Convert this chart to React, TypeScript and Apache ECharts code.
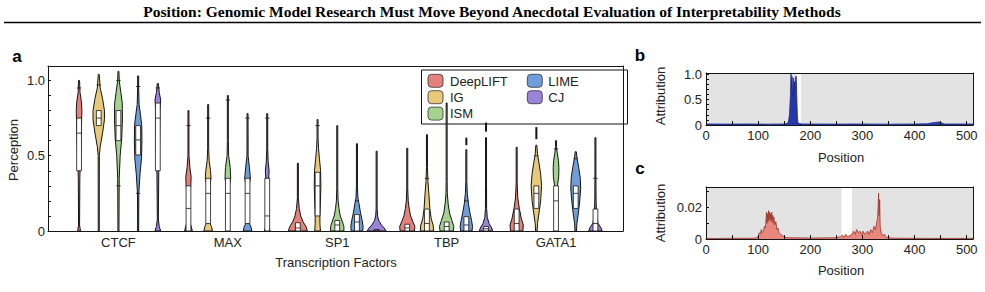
import React, { useEffect, useRef } from "react";
import * as echarts from "echarts";

const TITLE =
  "Position: Genomic Model Research Must Move Beyond Anecdotal Evaluation of Interpretability Methods";

const TFS = ["CTCF", "MAX", "SP1", "TBP", "GATA1"];
const METHODS = ["DeepLIFT", "IG", "ISM", "LIME", "CJ"];
const METHOD_COLORS = ["#e3817a", "#e8c97a", "#a5d38e", "#6e9dd8", "#9a83d8"];

// Violin outlines: [perception, relative density] from bottom to top, one list per TF
const DEEPLIFT_PROFILES = [
  [[0, 0.15], [0.04, 0.05], [0.35, 0.08], [0.55, 0.18], [0.72, 0.26], [0.8, 0.3], [0.86, 0.24], [0.92, 0.1], [1.0, 0.03]],
  [[0, 0.4], [0.03, 0.3], [0.06, 0.1], [0.25, 0.12], [0.3, 0.25], [0.36, 0.28], [0.42, 0.15], [0.5, 0.05], [0.8, 0.03]],
  [[0, 1.0], [0.03, 0.85], [0.06, 0.55], [0.1, 0.3], [0.15, 0.14], [0.22, 0.05], [0.45, 0.03]],
  [[0, 0.75], [0.03, 0.8], [0.06, 0.6], [0.1, 0.35], [0.15, 0.2], [0.2, 0.1], [0.28, 0.04], [0.55, 0.03]],
  [[0, 0.65], [0.04, 0.7], [0.08, 0.5], [0.15, 0.28], [0.22, 0.12], [0.32, 0.05], [0.556, 0.03]],
];
const IG_PROFILES = [
  [[0, 0.05], [0.5, 0.06], [0.56, 0.15], [0.65, 0.4], [0.74, 0.6], [0.8, 0.6], [0.88, 0.4], [0.95, 0.15], [1.04, 0.03]],
  [[0, 0.45], [0.03, 0.35], [0.06, 0.1], [0.3, 0.15], [0.35, 0.3], [0.4, 0.25], [0.47, 0.1], [0.55, 0.04], [0.84, 0.03]],
  [[0, 0.3], [0.05, 0.25], [0.1, 0.25], [0.3, 0.35], [0.4, 0.32], [0.48, 0.2], [0.55, 0.1], [0.62, 0.04], [0.74, 0.03]],
  [[0, 0.7], [0.04, 0.65], [0.08, 0.45], [0.15, 0.3], [0.25, 0.2], [0.33, 0.1], [0.42, 0.04], [0.64, 0.03]],
  [[0, 0.08], [0.05, 0.12], [0.12, 0.28], [0.2, 0.45], [0.3, 0.55], [0.38, 0.45], [0.45, 0.28], [0.51, 0.12], [0.57, 0.03]],
];
const ISM_PROFILES = [
  [[0, 0.05], [0.35, 0.08], [0.5, 0.18], [0.62, 0.35], [0.75, 0.42], [0.85, 0.4], [0.92, 0.25], [1.0, 0.08], [1.06, 0.03]],
  [[0, 0.15], [0.3, 0.15], [0.35, 0.3], [0.42, 0.25], [0.5, 0.08], [0.6, 0.04], [0.9, 0.03]],
  [[0, 0.7], [0.03, 0.7], [0.06, 0.55], [0.1, 0.32], [0.15, 0.18], [0.2, 0.09], [0.28, 0.04], [0.7, 0.03]],
  [[0, 0.7], [0.03, 0.75], [0.07, 0.55], [0.12, 0.3], [0.18, 0.16], [0.25, 0.07], [0.33, 0.04], [0.85, 0.03]],
  [[0, 0.1], [0.3, 0.15], [0.36, 0.28], [0.42, 0.3], [0.47, 0.25], [0.52, 0.12], [0.56, 0.05], [0.6, 0.03]],
];
const LIME_PROFILES = [
  [[0, 0.05], [0.25, 0.07], [0.38, 0.2], [0.48, 0.35], [0.6, 0.4], [0.7, 0.38], [0.77, 0.25], [0.84, 0.1], [0.95, 0.04], [1.03, 0.03]],
  [[0, 0.45], [0.03, 0.35], [0.06, 0.1], [0.3, 0.15], [0.35, 0.3], [0.42, 0.2], [0.5, 0.06], [0.78, 0.03]],
  [[0, 0.6], [0.03, 0.65], [0.07, 0.55], [0.12, 0.38], [0.18, 0.22], [0.22, 0.1], [0.3, 0.04], [0.58, 0.03]],
  [[0, 0.6], [0.03, 0.65], [0.07, 0.55], [0.12, 0.38], [0.18, 0.22], [0.25, 0.1], [0.33, 0.04], [0.54, 0.03]],
  [[0, 0.08], [0.05, 0.12], [0.12, 0.28], [0.2, 0.42], [0.28, 0.52], [0.35, 0.48], [0.42, 0.32], [0.48, 0.15], [0.527, 0.03]],
];
const CJ_PROFILES = [
  [[0, 0.3], [0.03, 0.15], [0.08, 0.05], [0.4, 0.1], [0.6, 0.18], [0.8, 0.22], [0.87, 0.3], [0.92, 0.15], [0.98, 0.03]],
  [[0, 0.3], [0.03, 0.15], [0.06, 0.08], [0.35, 0.15], [0.4, 0.2], [0.46, 0.1], [0.55, 0.04], [0.78, 0.03]],
  [[0, 1.0], [0.02, 0.8], [0.04, 0.5], [0.07, 0.22], [0.1, 0.1], [0.15, 0.05], [0.53, 0.03]],
  [[0, 0.7], [0.02, 0.6], [0.05, 0.32], [0.09, 0.13], [0.15, 0.06], [0.3, 0.04], [0.62, 0.03]],
  [[0, 0.7], [0.02, 0.6], [0.05, 0.28], [0.1, 0.12], [0.2, 0.07], [0.35, 0.05], [0.62, 0.03]],
];

// Inner boxes: [q1, median, q3]
const DEEPLIFT_BOX = [[0.4, 0.65, 0.75], [0, 0.15, 0.3], [0, 0.02, 0.055], [0, 0.02, 0.045], [0, 0.05, 0.146]];
const IG_BOX = [[0.7, 0.75, 0.8], [0.05, 0.25, 0.35], [0.1, 0.3, 0.39], [0, 0.05, 0.146], [0.15, 0.25, 0.3]];
const ISM_BOX = [[0.6, 0.7, 0.8], [0, 0.25, 0.35], [0, 0.04, 0.07], [0, 0.03, 0.06], [0, 0.2, 0.3]];
const LIME_BOX = [[0.505, 0.605, 0.7], [0.05, 0.25, 0.35], [0, 0.06, 0.11], [0, 0.04, 0.095], [0.15, 0.25, 0.3]];
const CJ_BOX = [[0.4, 0.75, 0.85], [0, 0.1, 0.35], [0, 0.005, 0.01], [0, 0.015, 0.03], [0, 0.05, 0.146]];

// Whisker end marks
const DEEPLIFT_CAPS = [[0.95], [0.7], [], [], []];
const IG_CAPS = [[0.97], [0.75], [0.7], [0.35], [0.5]];
const ISM_CAPS = [[0.3, 1.0], [0.87], [], [], [0.545]];
const LIME_CAPS = [[0.25, 0.96], [0.75], [0.2], [0.2], [0.48]];
const CJ_CAPS = [[0.95], [0.75], [], [], [0.35]];

// Detached upper tail pieces [from, to]
const DEEPLIFT_TAILS = [[], [], [], [], []];
const IG_TAILS = [[], [], [], [], [[0.61, 0.69]]];
const ISM_TAILS = [[], [], [], [], []];
const LIME_TAILS = [[], [], [], [[0.57, 0.62]], []];
const CJ_TAILS = [[], [], [], [[0.66, 0.72]], []];

const PROFILES = [DEEPLIFT_PROFILES, IG_PROFILES, ISM_PROFILES, LIME_PROFILES, CJ_PROFILES];
const BOXES = [DEEPLIFT_BOX, IG_BOX, ISM_BOX, LIME_BOX, CJ_BOX];
const CAPS = [DEEPLIFT_CAPS, IG_CAPS, ISM_CAPS, LIME_CAPS, CJ_CAPS];
const TAILS = [DEEPLIFT_TAILS, IG_TAILS, ISM_TAILS, LIME_TAILS, CJ_TAILS];

const PERCEPTION_LABELS = [0, 0.5, 1.0];
const PERCEPTION_TICKS = [0, 0.1, 0.2, 0.3, 0.4, 0.5, 0.6, 0.7, 0.8, 0.9, 1.0];

// Attribution along the sequence: [position, attribution]
const POSITION_LABELS = [0, 100, 200, 300, 400, 500];
const POSITION_TICKS = [0, 50, 100, 150, 200, 250, 300, 350, 400, 450, 500];
const SEQ_LENGTH = 512;

const ATTR_B = [
  [0, 0.02], [40, 0.018], [80, 0.02], [120, 0.017], [150, 0.02], [155, 0.03], [158, 0.06], [160, 0.2],
  [162, 0.6], [163, 1.0], [164, 0.75], [165, 0.95], [166, 0.55], [167, 0.8], [168, 0.92], [169, 0.6],
  [170, 0.85], [171, 0.7], [172, 0.93], [173, 0.96], [174, 0.6], [175, 0.25], [176, 0.06], [178, 0.03],
  [185, 0.02], [250, 0.018], [300, 0.02], [350, 0.017], [400, 0.02], [425, 0.025], [432, 0.04],
  [440, 0.05], [447, 0.06], [452, 0.04], [458, 0.02], [512, 0.02],
];
const MOTIF_B = [174, 182];
const ATTR_B_LABELS = [0, 0.5, 1.0];
const ATTR_B_TICKS = [0, 0.1, 0.2, 0.3, 0.4, 0.5, 0.6, 0.7, 0.8, 0.9, 1.0];

const ATTR_C = [
  [0, 0.0004], [20, 0.0003], [50, 0.0005], [80, 0.0004], [95, 0.0006], [100, 0.0015], [102, 0.004],
  [104, 0.003], [106, 0.006], [108, 0.004], [110, 0.005], [112, 0.008], [114, 0.007], [115, 0.012],
  [116, 0.017], [117, 0.01], [118, 0.016], [119, 0.011], [120, 0.018], [121, 0.012], [122, 0.017],
  [123, 0.013], [124, 0.016], [125, 0.011], [126, 0.017], [127, 0.012], [128, 0.015], [129, 0.01],
  [130, 0.014], [132, 0.009], [134, 0.011], [136, 0.006], [138, 0.007], [140, 0.004], [143, 0.003],
  [147, 0.002], [152, 0.001], [160, 0.0008], [200, 0.0006], [250, 0.0008], [258, 0.0015], [262, 0.0025],
  [265, 0.001], [268, 0.003], [271, 0.0015], [275, 0.002], [280, 0.003], [283, 0.005], [286, 0.003],
  [289, 0.006], [292, 0.004], [295, 0.005], [298, 0.003], [301, 0.005], [304, 0.003], [307, 0.004],
  [310, 0.005], [313, 0.003], [316, 0.006], [319, 0.004], [322, 0.008], [325, 0.006], [327, 0.01],
  [329, 0.013], [330, 0.02], [331, 0.029], [332, 0.015], [333, 0.025], [334, 0.008], [336, 0.004],
  [339, 0.002], [342, 0.003], [346, 0.001], [360, 0.0005], [420, 0.0004], [512, 0.0004],
];
const MOTIF_C = [260, 280];
const ATTR_C_LABELS = [0, 0.02];
const ATTR_C_TICKS = [0, 0.01, 0.02, 0.03];

const SANS = "'Liberation Sans', Arial, Helvetica, sans-serif";
const SERIF = "'Liberation Serif', 'Times New Roman', serif";
const INK = "#141414";
const FONT = 13;

const METHOD_OFFSET = 0.18; // category units between neighbouring violins
const VIOLIN_HALF_PX = 9.5;
const TAIL_HALF_PX = 0.5;
const BOX_HALF_PX = 2.4;
const CAP_HALF_PX = 2.2;

function violinSeries(m: number) {
  return {
    type: "custom",
    name: METHODS[m],
    xAxisIndex: 0,
    yAxisIndex: 0,
    z: 3,
    data: TFS.map((_, t) => [t]),
    renderItem: (params: any, api: any) => {
      const t = params.dataIndex;
      const prof: number[][] = PROFILES[m][t];
      const [q1, med, q3] = BOXES[m][t];
      const cx = api.coord([t + (m - 2) * METHOD_OFFSET, 0])[0];
      const py = (v: number) => api.coord([0, v])[1];
      const hw = (d: number) => Math.max(d * VIOLIN_HALF_PX, TAIL_HALF_PX);
      const left = prof.map(([v, d]) => [cx - hw(d), py(v)]);
      const right = prof
        .slice()
        .reverse()
        .map(([v, d]) => [cx + hw(d), py(v)]);
      const children: any[] = [
        {
          type: "polygon",
          shape: { points: left.concat(right) },
          style: { fill: METHOD_COLORS[m], stroke: INK, lineWidth: 1, lineJoin: "round" },
        },
      ];
      TAILS[m][t].forEach(([a, b]: number[]) => {
        children.push({
          type: "line",
          shape: { x1: cx, y1: py(a), x2: cx, y2: py(b) },
          style: { stroke: INK, lineWidth: 2 },
        });
      });
      CAPS[m][t].forEach((c: number) => {
        children.push({
          type: "line",
          shape: { x1: cx - CAP_HALF_PX, y1: py(c), x2: cx + CAP_HALF_PX, y2: py(c) },
          style: { stroke: INK, lineWidth: 0.8 },
        });
      });
      const yTop = py(q3);
      const yBot = py(q1);
      children.push({
        type: "rect",
        shape: { x: cx - BOX_HALF_PX, y: yTop, width: BOX_HALF_PX * 2, height: Math.max(yBot - yTop, 0.8) },
        style: { fill: "#ffffff", stroke: INK, lineWidth: 0.8 },
      });
      children.push({
        type: "line",
        shape: { x1: cx - BOX_HALF_PX, y1: py(med), x2: cx + BOX_HALF_PX, y2: py(med) },
        style: { stroke: INK, lineWidth: 0.8 },
      });
      return { type: "group", children };
    },
  };
}

const tickLabel = { color: "#222", fontSize: FONT, fontFamily: SANS };

function frameAxis(gridIndex: number, position: string, extra: any = {}) {
  return {
    type: "value",
    gridIndex,
    position,
    z: 10,
    axisLine: { show: true, onZero: false, lineStyle: { color: INK, width: 1 } },
    axisTick: { show: false },
    axisLabel: { show: false },
    splitLine: { show: false },
    ...extra,
  };
}

function fmtNum(v: number, digits: number) {
  return v === 0 ? "0" : v.toFixed(digits);
}

function positionAxis(gridIndex: number) {
  return {
    type: "value",
    gridIndex,
    min: 0,
    max: SEQ_LENGTH,
    z: 10,
    axisLine: { show: true, onZero: false, lineStyle: { color: INK, width: 1 } },
    axisTick: { show: true, inside: true, length: 4, customValues: POSITION_TICKS, lineStyle: { color: INK } },
    splitLine: { show: false },
    axisLabel: { ...tickLabel, margin: 4, customValues: POSITION_LABELS },
  };
}

function attributionAxis(gridIndex: number, max: number, labels: number[], ticks: number[], digits: number) {
  return {
    type: "value",
    gridIndex,
    min: 0,
    max,
    z: 10,
    axisLine: { show: true, onZero: false, lineStyle: { color: INK, width: 1 } },
    axisTick: { show: true, inside: true, length: 3, customValues: ticks, lineStyle: { color: INK } },
    splitLine: { show: false },
    axisLabel: { ...tickLabel, margin: 4, customValues: labels, formatter: (v: number) => fmtNum(v, digits) },
  };
}

function buildOption() {
  const legendChildren: any[] = [
    {
      type: "rect",
      shape: { x: 421.5, y: 70, width: 206, height: 54 },
      style: { fill: "#ffffff", stroke: INK, lineWidth: 1 },
    },
  ];
  METHODS.forEach((name, i) => {
    const col = i < 3 ? 0 : 1;
    const row = i < 3 ? i : i - 3;
    legendChildren.push({
      type: "rect",
      shape: { x: 428 + col * 99.3, y: 74.3 + row * 16.4, width: 15, height: 13, r: 3.5 },
      style: { fill: METHOD_COLORS[i], stroke: "#333", lineWidth: 0.8 },
    });
    legendChildren.push({
      type: "text",
      x: 450 + col * 98.3,
      y: 81 + row * 16.4,
      style: { text: name, fontSize: FONT, fontFamily: SANS, fill: "#222", verticalAlign: "middle" },
    });
  });

  const sideSeries = (ai: number, data: number[][], motif: number[], line: string, fill: string) => [
    {
      type: "line",
      xAxisIndex: ai,
      yAxisIndex: ai,
      data: [],
      z: 1,
      silent: true,
      markArea: {
        silent: true,
        itemStyle: { color: "#e3e3e3" },
        data: [
          [{ xAxis: 0 }, { xAxis: motif[0] }],
          [{ xAxis: motif[1] }, { xAxis: SEQ_LENGTH }],
        ],
      },
    },
    {
      type: "line",
      xAxisIndex: ai,
      yAxisIndex: ai,
      data,
      z: 3,
      showSymbol: false,
      lineStyle: { color: line, width: 0.8 },
      areaStyle: { color: fill, opacity: 1 },
    },
  ];

  const label = (text: string, x: number, y: number, rotate = false) => ({
    type: "text",
    x,
    y,
    rotation: rotate ? Math.PI / 2 : 0,
    style: { text, fontSize: FONT, fontFamily: SANS, fill: "#222", align: "center", verticalAlign: "middle" },
  });
  const panelTag = (text: string, x: number, y: number) => ({
    type: "text",
    x,
    y,
    style: { text, fontSize: 17, fontWeight: "bold", fontFamily: SANS, fill: "#000", align: "center", verticalAlign: "middle" },
  });

  return {
    animation: false,
    backgroundColor: "#ffffff",
    grid: [
      { left: 48, top: 66, width: 575, height: 165 },
      { left: 706, top: 73, width: 267, height: 52 },
      { left: 706, top: 187, width: 267, height: 52 },
    ],
    xAxis: [
      {
        type: "value",
        gridIndex: 0,
        min: -0.644,
        max: 4.612,
        z: 10,
        axisLine: { show: true, onZero: false, lineStyle: { color: INK, width: 1 } },
        axisTick: { show: false },
        splitLine: { show: false },
        axisLabel: {
          ...tickLabel,
          margin: 5,
          customValues: TFS.map((_, i) => i),
          formatter: (v: number) => TFS[Math.round(v)] ?? "",
        },
      },
      frameAxis(0, "top", { min: -0.644, max: 4.612 }),
      positionAxis(1),
      frameAxis(1, "top", { min: 0, max: SEQ_LENGTH }),
      positionAxis(2),
      frameAxis(2, "top", { min: 0, max: SEQ_LENGTH }),
    ],
    yAxis: [
      {
        type: "value",
        gridIndex: 0,
        min: 0,
        max: 1.096,
        z: 10,
        axisLine: { show: true, onZero: false, lineStyle: { color: INK, width: 1 } },
        axisTick: { show: true, inside: true, length: 3, customValues: PERCEPTION_TICKS, lineStyle: { color: INK } },
        splitLine: { show: false },
        axisLabel: {
          ...tickLabel,
          margin: 3,
          customValues: PERCEPTION_LABELS,
          formatter: (v: number) => fmtNum(v, 1),
        },
      },
      frameAxis(0, "right", { min: 0, max: 1.096 }),
      attributionAxis(1, 1.02, ATTR_B_LABELS, ATTR_B_TICKS, 1),
      frameAxis(1, "right", { min: 0, max: 1.02 }),
      attributionAxis(2, 0.033, ATTR_C_LABELS, ATTR_C_TICKS, 2),
      frameAxis(2, "right", { min: 0, max: 0.033 }),
    ],
    series: [
      ...METHODS.map((_, m) => violinSeries(m)),
      ...sideSeries(2, ATTR_B, MOTIF_B, "#1c2a8c", "#2438a8"),
      ...sideSeries(4, ATTR_C, MOTIF_C, "#9c3529", "#e9877f"),
    ],
    graphic: [
      {
        type: "text",
        x: 492,
        y: 11,
        style: { text: TITLE, fontSize: 15.5, fontWeight: "bold", fontFamily: SERIF, fill: "#000", align: "center", verticalAlign: "middle" },
      },
      { type: "line", shape: { x1: 4, y1: 22.5, x2: 981, y2: 22.5 }, style: { stroke: "#000", lineWidth: 1.3 } },
      panelTag("a", 17, 56),
      panelTag("b", 640, 55),
      panelTag("c", 640, 168),
      label("Perception", 13, 150, true),
      label("Transcription Factors", 336, 262),
      label("Attribution", 660, 96, true),
      label("Position", 841, 157),
      label("Attribution", 660, 213, true),
      label("Position", 841, 270),
      { type: "group", z: 100, children: legendChildren },
    ],
  };
}

export default function App() {
  const ref = useRef<HTMLDivElement>(null);
  useEffect(() => {
    document.body.style.margin = "0";
    if (!ref.current) return;
    const chart = echarts.init(ref.current, null, { renderer: "svg" });
    chart.setOption(buildOption() as any);
    return () => chart.dispose();
  }, []);
  return <div ref={ref} style={{ width: 985, height: 292 }} />;
}
